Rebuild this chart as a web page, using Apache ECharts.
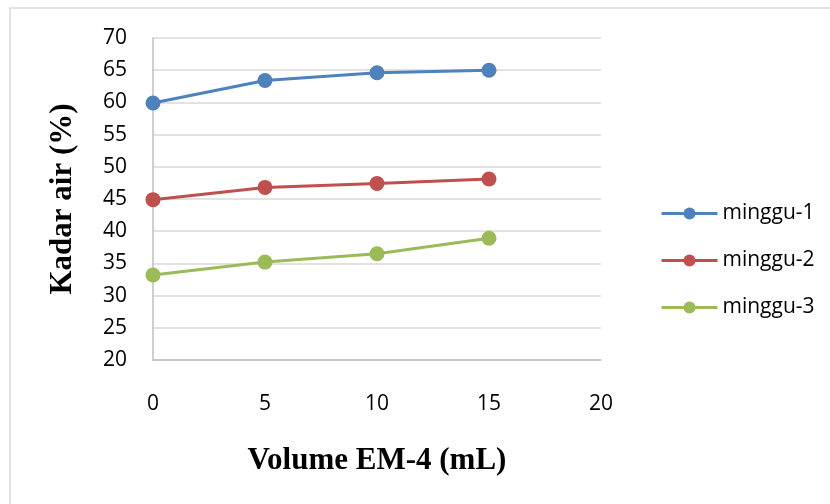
<!DOCTYPE html>
<html>
<head>
<meta charset="UTF-8">
<title>Kadar air</title>
<script src="https://cdn.jsdelivr.net/npm/echarts@6/dist/echarts.min.js"></script>
<style>
  body { margin: 0; background: #fff; }
  #chart { width: 830px; height: 504px; }
</style>
</head>
<body>
<div id="chart"></div>
<script>
// volume EM-4 (mL)
var volume = [0, 5, 10, 15];
var minggu1 = [59.9, 63.4, 64.6, 65.0];
var minggu2 = [44.9, 46.8, 47.4, 48.1];
var minggu3 = [33.2, 35.2, 36.5, 38.9];
var seriesNames = ['minggu-1', 'minggu-2', 'minggu-3'];
var colors = ['#4F81BD', '#C0504D', '#9BBB59'];

function pairs(ys) {
  return volume.map(function (x, i) { return [x, ys[i]]; });
}

var chart = echarts.init(document.getElementById('chart'));

var labelFont = { fontFamily: 'Open Sans', fontSize: 21, color: '#000' };
var titleFont = { fontFamily: 'Liberation Serif', fontSize: 31, fontWeight: 'bold', color: '#000' };

var option = {
  animation: false,
  color: colors,
  graphic: [{
    type: 'rect',
    shape: { x: 10, y: 8, width: 830, height: 510 },
    style: { fill: 'none', stroke: '#d9d9d9', lineWidth: 1.5 }
  }],
  grid: { left: 153, right: 229, top: 38, bottom: 144 },
  xAxis: {
    type: 'value', min: 0, max: 20, interval: 5,
    name: 'Volume EM-4 (mL)', nameLocation: 'middle', nameGap: 85,
    nameTextStyle: titleFont,
    axisLine: { lineStyle: { color: '#bfbfbf', width: 1.5 } },
    axisTick: { show: false },
    axisLabel: Object.assign({ margin: 34 }, labelFont),
    splitLine: { show: false }
  },
  yAxis: {
    type: 'value', min: 20, max: 70, interval: 5,
    name: 'Kadar air (%)', nameLocation: 'middle', nameGap: 75,
    nameTextStyle: titleFont,
    axisLine: { show: true, lineStyle: { color: '#bfbfbf', width: 1.5 } },
    axisTick: { show: false },
    axisLabel: Object.assign({ margin: 26 }, labelFont),
    splitLine: { lineStyle: { color: '#d9d9d9', width: 1.5 } }
  },
  legend: {
    orient: 'vertical', left: 655, top: 198, itemGap: 26,
    itemWidth: 56, itemHeight: 15,
    lineStyle: { width: 3 },
    textStyle: labelFont,
    data: seriesNames
  },
  series: [minggu1, minggu2, minggu3].map(function (d, i) {
    return {
      name: seriesNames[i], type: 'line', data: pairs(d),
      symbol: 'circle', symbolSize: 15,
      lineStyle: { width: 3 }
    };
  })
};

chart.setOption(option);
</script>
</body>
</html>
